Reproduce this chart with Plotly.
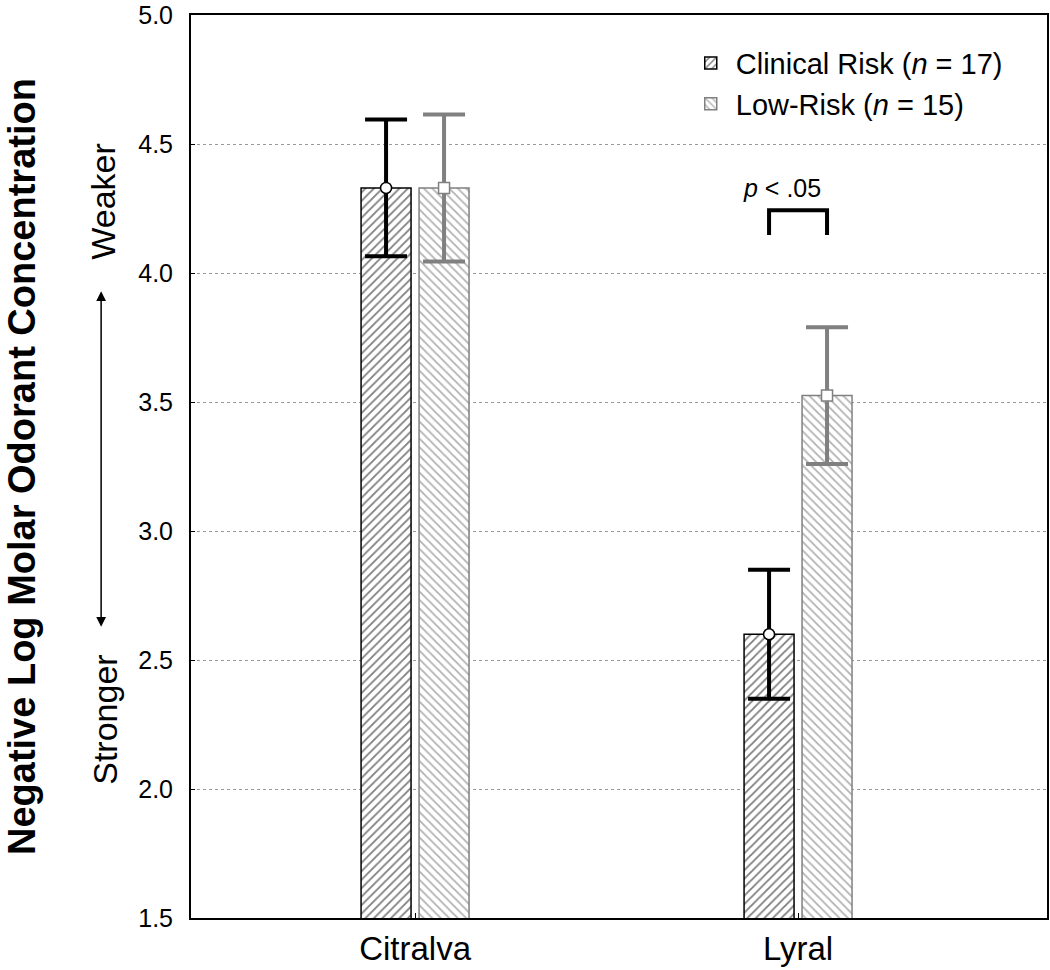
import plotly.graph_objects as go

# ---- data ----
categories = ["Citralva", "Lyral"]
clinical_mean = [4.33, 2.60]
clinical_err = [0.265, 0.25]
lowrisk_mean = [4.33, 3.525]
lowrisk_err = [0.285, 0.265]
series_names = ["Clinical Risk (<i>n</i> = 17)", "Low-Risk (<i>n</i> = 15)"]
y_ticks = [1.5, 2.0, 2.5, 3.0, 3.5, 4.0, 4.5, 5.0]

FONT = "Liberation Sans, Arial, sans-serif"
BLACK = "#000000"
GRAY = "#808080"

idx = list(range(len(categories)))
OFF = 0.0757
BW = 0.1305
x_clin = [i - OFF for i in idx]
x_low = [i + OFF for i in idx]

fig = go.Figure()

fig.add_trace(go.Bar(
    x=x_clin, y=clinical_mean, width=BW, name=series_names[0],
    marker=dict(color="white", line=dict(color=BLACK, width=1.5),
                pattern=dict(shape="/", fgcolor=BLACK, bgcolor="white", size=6, solidity=0.3)),
    error_y=dict(type="data", array=clinical_err, color=BLACK, thickness=4, width=21),
))
fig.add_trace(go.Bar(
    x=x_low, y=lowrisk_mean, width=BW, name=series_names[1],
    marker=dict(color="white", line=dict(color=GRAY, width=1.5),
                pattern=dict(shape="\\", fgcolor="#666666", bgcolor="white", size=6, solidity=0.3)),
    error_y=dict(type="data", array=lowrisk_err, color=GRAY, thickness=4, width=21),
))
fig.add_trace(go.Scatter(
    x=x_clin, y=clinical_mean, mode="markers", showlegend=False, hoverinfo="skip",
    marker=dict(symbol="circle", size=11, color="white", line=dict(color=BLACK, width=1.5)),
))
fig.add_trace(go.Scatter(
    x=x_low, y=lowrisk_mean, mode="markers", showlegend=False, hoverinfo="skip",
    marker=dict(symbol="square", size=11, color="white", line=dict(color=GRAY, width=1.5)),
))

# significance bracket between Lyral bars
br_lo, br_hi = 4.148, 4.244
fig.add_shape(type="path",
              path=f"M {x_clin[1]} {br_lo} L {x_clin[1]} {br_hi} L {x_low[1]} {br_hi} L {x_low[1]} {br_lo}",
              xref="x", yref="y", line=dict(color=BLACK, width=4))
fig.add_annotation(x=1 - 0.043, y=4.33, xref="x", yref="y", text="<i>p</i> < .05",
                   showarrow=False, font=dict(family=FONT, size=25, color=BLACK))

# y-axis title and direction cues
fig.add_annotation(xref="paper", yref="paper", x=-0.198, y=0.5, xanchor="center", yanchor="middle",
                   textangle=-90,
                   text="<b>Negative Log Molar Odorant Concentration</b>", showarrow=False,
                   font=dict(family=FONT, size=38, color=BLACK))
fig.add_annotation(xref="paper", yref="y", x=-0.103, y=4.28, xanchor="center", yanchor="middle",
                   textangle=-90, text="Weaker",
                   showarrow=False, font=dict(family=FONT, size=34, color=BLACK))
fig.add_annotation(xref="paper", yref="y", x=-0.100, y=2.27, xanchor="center", yanchor="middle",
                   textangle=-90, text="Stronger",
                   showarrow=False, font=dict(family=FONT, size=34, color=BLACK))
fig.add_annotation(xref="paper", yref="y", x=-0.105, y=3.93, ax=0, ay=2.623,
                   axref="pixel", ayref="y", text="", showarrow=True,
                   arrowhead=2, arrowside="end+start", arrowsize=1.3, arrowwidth=1.5,
                   arrowcolor=BLACK, standoff=0, startstandoff=0)

fig.update_layout(
    width=1050, height=970,
    margin=dict(l=191, r=3, t=15, b=52),
    paper_bgcolor="white", plot_bgcolor="white",
    font=dict(family=FONT, color=BLACK),
    barmode="overlay",
    showlegend=True,
    legend=dict(x=0.578, y=0.975, xanchor="left", yanchor="top",
                font=dict(family=FONT, size=29, color=BLACK),
                bgcolor="rgba(0,0,0,0)", itemwidth=40, tracegroupgap=0),
    xaxis=dict(range=[-0.585, 1.650], tickvals=idx, ticktext=categories,
               showgrid=False, zeroline=False, showline=True, linecolor=BLACK, linewidth=2,
               mirror=True, ticks="inside", ticklen=5, tickcolor=BLACK, automargin=False,
               tickfont=dict(family=FONT, size=33, color=BLACK)),
    yaxis=dict(range=[1.5, 5.0005], tickvals=y_ticks, tickformat=".1f",
               showgrid=True, gridcolor="#9a9a9a", griddash="dot", gridwidth=1,
               zeroline=False, showline=True, linecolor=BLACK, linewidth=2, mirror=True,
               ticks="inside", ticklen=4, tickcolor=BLACK, ticklabelstandoff=11,
               ticklabeloverflow="allow", automargin=False,
               tickfont=dict(family=FONT, size=25, color=BLACK)),
)

fig.write_html("out.html", config={"displayModeBar": False},
               post_script="document.body.style.margin='0';document.body.style.overflow='hidden';")
